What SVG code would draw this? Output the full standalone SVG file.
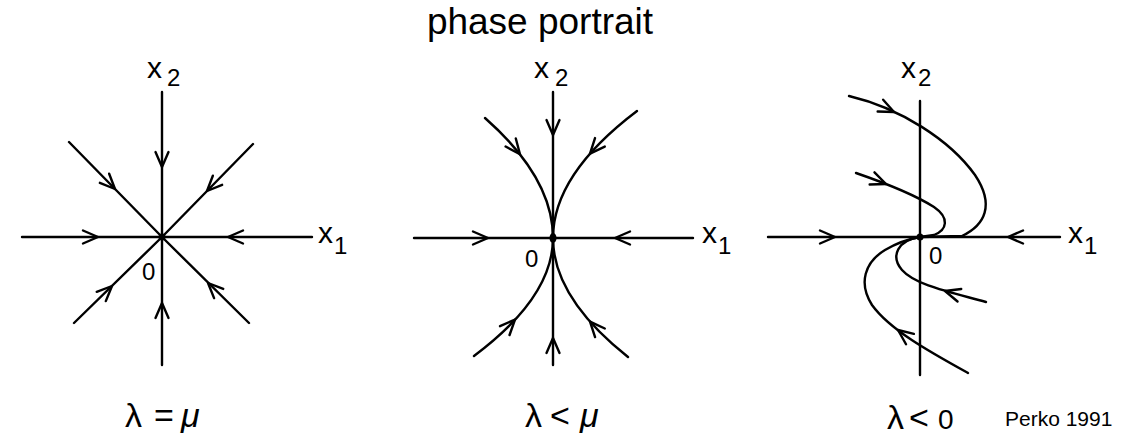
<svg xmlns="http://www.w3.org/2000/svg" xmlns:xlink="http://www.w3.org/1999/xlink" width="1124" height="439" viewBox="0 0 1124 439">
<style>
.ln{fill:none;stroke:#000;stroke-width:2.4;stroke-linecap:round;stroke-linejoin:round}
.lb{font-family:"Liberation Sans",Arial,sans-serif;fill:#000}
.ax{font-size:30px}
.sb{font-size:24px}
.org{font-size:24px}
.gr{font-family:"Liberation Sans","DejaVu Sans",sans-serif;font-size:34px;fill:#000}
</style>
<defs>
<path id="ah" d="M-15,-6.5 L0,0 L-15,6.5" fill="none" stroke="#000" stroke-width="2.4" stroke-linecap="round" stroke-linejoin="round"/>
</defs>
<rect width="1124" height="439" fill="#fff"/>
<text id="title" class="lb" x="540" y="34" font-size="37" text-anchor="middle">phase portrait</text>

<g id="connectors">
  <g id="p1-lines">
    <path class="ln" d="M22,237 L312,237"/>
    <path class="ln" d="M162,92 L162,365"/>
    <path class="ln" d="M69,142 L162,237 L249,323"/>
    <path class="ln" d="M253,144 L162,237 L74,323"/>
    <use href="#ah" transform="translate(162,167) rotate(90)"/>
    <use href="#ah" transform="translate(162,303) rotate(-90)"/>
    <use href="#ah" transform="translate(98,237)"/>
    <use href="#ah" transform="translate(228,237) rotate(180)"/>
    <use href="#ah" transform="translate(115,189) rotate(45.6)"/>
    <use href="#ah" transform="translate(207,191) rotate(134.4)"/>
    <use href="#ah" transform="translate(112,286) rotate(-44.3)"/>
    <use href="#ah" transform="translate(208,283) rotate(-135.3)"/>
  </g>
  <g id="p2-lines">
    <path class="ln" d="M414,238 L693,238"/>
    <path class="ln" d="M553,92 L553,365"/>
    <path class="ln" d="M485,118 Q553,178 553,238"/>
    <path class="ln" d="M637,111 Q553,174.5 553,238"/>
    <path class="ln" d="M474,356 Q553,297 553,238"/>
    <path class="ln" d="M628,357 Q553,297.5 553,238"/>
    <use href="#ah" transform="translate(553,135) rotate(90)"/>
    <use href="#ah" transform="translate(553,338) rotate(-90)"/>
    <use href="#ah" transform="translate(488,238)"/>
    <use href="#ah" transform="translate(615,238) rotate(180)"/>
    <use href="#ah" transform="translate(520,154.3) rotate(51.7)"/>
    <use href="#ah" transform="translate(590,153.6) rotate(131.3)"/>
    <use href="#ah" transform="translate(515,319.6) rotate(-47.1)"/>
    <use href="#ah" transform="translate(590,321.6) rotate(-131.5)"/>
  </g>
  <g id="p3-lines">
    <path class="ln" d="M768,237 L1060,237"/>
    <path class="ln" d="M920,101 L920,375"/>
    <path class="ln" d="M849,96 C900,108 950,140 975,175 C995,205 985,225 962,236 L920,237"/>
    <path class="ln" d="M856,173 C885,183 915,195 934,207 C950,218 947,230 934,235 L920,237"/>
    <path class="ln" d="M986,302 C950,292 915,285 902,270 C890,256 898,240 920,237"/>
    <path class="ln" d="M968,373 C930,352 890,330 872,305 C858,283 865,262 885,250 C897,243 908,239 920,237"/>
    <use href="#ah" transform="translate(835,237)"/>
    <use href="#ah" transform="translate(1008,237) rotate(180)"/>
    <use href="#ah" transform="translate(894,112) rotate(25)"/>
    <use href="#ah" transform="translate(886,184) rotate(21.8)"/>
    <use href="#ah" transform="translate(945,291) rotate(196.4)"/>
    <use href="#ah" transform="translate(898,330) rotate(217.2)"/>
  </g>
</g>

<g id="origin1"><circle cx="162" cy="237" r="3.5" fill="#000"/></g>
<g id="origin2"><ellipse cx="553" cy="238" rx="3.5" ry="5" fill="#000"/></g>
<g id="origin3"><circle cx="920" cy="237" r="3.5" fill="#000"/></g>

<g id="labels1" class="lb">
  <text class="ax" x="147" y="78">x</text><text class="sb" x="167" y="86">2</text>
  <text class="ax" x="318" y="243">x</text><text class="sb" x="334" y="254">1</text>
  <text class="org" x="142" y="280">0</text>
</g>
<g id="labels2" class="lb">
  <text class="ax" x="534" y="78">x</text><text class="sb" x="555" y="86">2</text>
  <text class="ax" x="702" y="243">x</text><text class="sb" x="718" y="254">1</text>
  <text class="org" x="525" y="267">0</text>
</g>
<g id="labels3" class="lb">
  <text class="ax" x="901" y="78">x</text><text class="sb" x="918" y="86">2</text>
  <text class="ax" x="1068" y="243">x</text><text class="sb" x="1084" y="254">1</text>
  <text class="org" x="929" y="264">0</text>
</g>

<g id="captions">
  <text class="gr" y="427"><tspan x="125">λ</tspan><tspan x="154">=</tspan><tspan x="181" font-style="italic">μ</tspan></text>
  <text class="gr" y="427"><tspan x="525">λ</tspan><tspan x="550">&lt;</tspan><tspan x="580" font-style="italic">μ</tspan></text>
  <text class="gr" y="429"><tspan x="887">λ</tspan><tspan x="909">&lt;</tspan><tspan x="938" font-size="28">0</tspan></text>
  <text class="lb" x="1005" y="426" font-size="21">Perko 1991</text>
</g>
</svg>
